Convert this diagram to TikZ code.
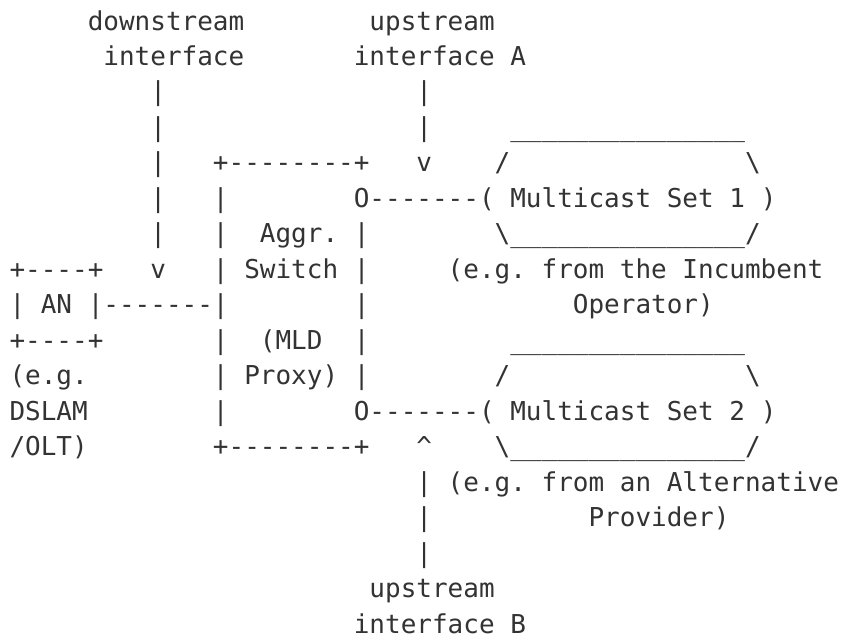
\documentclass[tikz,border=0pt]{standalone}
\usepackage{fontspec}
\setmonofont{DejaVu Sans Mono}
\definecolor{ink}{RGB}{51,51,51}
\tikzset{
  txt/.style={anchor=base west, inner sep=0pt, outer sep=0pt, text=ink,
    font=\ttfamily\fontsize{26pt}{35.47pt}\selectfont}
}
\newcommand{\tx}[4]{\node[txt] (#1) at ({9.5pt+#2*15.65pt},{-30pt-#3*35.47pt}) {#4};}
\newcommand{\us}{\_\_\_\_\_\_\_\_\_\_\_\_\_\_\_}
\begin{document}
\begin{tikzpicture}
\fill[white] (0,0) rectangle (841pt,-641pt);
\useasboundingbox (0,0) rectangle (841pt,-641pt);
% row 0-1
\tx{dsA}{5}{0}{downstream}
\tx{usA}{23}{0}{upstream}
\tx{dsB}{6}{1}{interface}
\tx{usB}{22}{1}{interface A}
% row 2
\tx{dl2}{9}{2}{|}
\tx{ul2}{26}{2}{|}
% row 3
\tx{dl3}{9}{3}{|}
\tx{ul3}{26}{3}{|}
\tx{m1top}{32}{3}{\us}
% row 4
\tx{dl4}{9}{4}{|}
\tx{boxtop}{13}{4}{+--------+}
\tx{uarrA}{26}{4}{v}
\tx{m1l}{31}{4}{/}
\tx{m1r}{47}{4}{\textbackslash}
% row 5
\tx{dl5}{9}{5}{|}
\tx{bl5}{13}{5}{|}
\tx{m1}{22}{5}{O-------( Multicast Set 1 )}
% row 6
\tx{dl6}{9}{6}{|}
\tx{bl6}{13}{6}{|}
\tx{aggr}{16}{6}{Aggr.}
\tx{br6}{22}{6}{|}
\tx{m1bot}{31}{6}{\textbackslash\us/}
% row 7
\tx{antop}{0}{7}{+----+}
\tx{darr}{9}{7}{v}
\tx{switch}{13}{7}{| Switch |}
\tx{inc}{28}{7}{(e.g. from the Incumbent}
% row 8
\tx{an}{0}{8}{| AN |-------|}
\tx{br8}{22}{8}{|}
\tx{oper}{36}{8}{Operator)}
% row 9
\tx{anbot}{0}{9}{+----+}
\tx{bl9}{13}{9}{|}
\tx{mld}{16}{9}{(MLD}
\tx{br9}{22}{9}{|}
\tx{m2top}{32}{9}{\us}
% row 10
\tx{eg}{0}{10}{(e.g.}
\tx{proxy}{13}{10}{| Proxy) |}
\tx{m2l}{31}{10}{/}
\tx{m2r}{47}{10}{\textbackslash}
% row 11
\tx{dslam}{0}{11}{DSLAM}
\tx{bl11}{13}{11}{|}
\tx{m2}{22}{11}{O-------( Multicast Set 2 )}
% row 12
\tx{olt}{0}{12}{/OLT)}
\tx{boxbot}{13}{12}{+--------+}
\tx{uarrB}{26}{12}{\textasciicircum}
\tx{m2bot}{31}{12}{\textbackslash\us/}
% row 13-17
\tx{alt}{26}{13}{| (e.g. from an Alternative}
\tx{ul14}{26}{14}{|}
\tx{prov}{37}{14}{Provider)}
\tx{ul15}{26}{15}{|}
\tx{usC}{23}{16}{upstream}
\tx{usD}{22}{17}{interface B}
\end{tikzpicture}
\end{document}
